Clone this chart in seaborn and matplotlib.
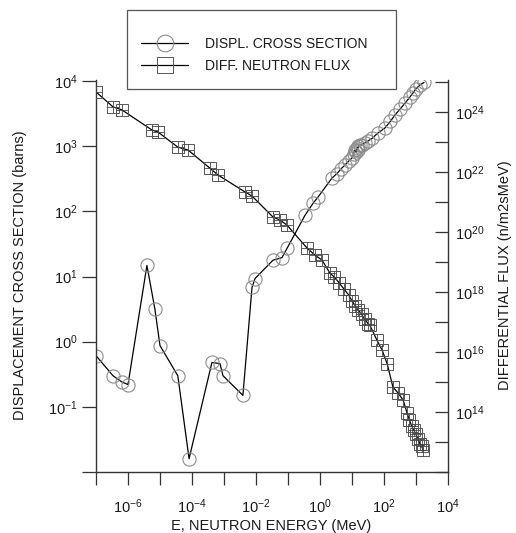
import matplotlib
matplotlib.use("Agg")
import matplotlib.pyplot as plt
import seaborn as sns
import pandas as pd
from matplotlib.lines import Line2D
from matplotlib.patches import Rectangle
from matplotlib.ticker import FixedLocator, FixedFormatter, NullLocator

# ---------------- data ----------------
E_xs = [1.0e-7, 3.4e-7, 6.5e-7, 1.0e-6, 3.9e-6, 6.9e-6, 1.0e-5, 3.6e-5, 8.1e-5, 4.2e-4,
        7.5e-4, 9.3e-4, 3.9e-3, 7.5e-3, 9.3e-3, 0.034, 0.065, 0.093, 0.34, 0.60,
        0.87, 2.37, 3.4, 4.5, 6.0, 7.9, 10.0, 11.2, 12.3, 13.5,
        14.1, 15.0, 15.8, 17.8, 20.4, 25.1, 31.6, 42.7, 63.1, 107,
        158, 219, 316, 457, 631, 813, 1000, 1330, 1780]
sigma_d = [0.61, 0.30, 0.24, 0.22, 14.8, 3.2, 0.87, 0.30, 0.016, 0.48,
           0.46, 0.30, 0.15, 6.8, 9.3, 17.8, 19.5, 27, 87, 132,
           166, 324, 380, 447, 513, 590, 660, 760, 870, 800,
           950, 880, 1000, 1050, 1050, 1120, 1200, 1320, 1580, 1900,
           2400, 3000, 3700, 4600, 5600, 6600, 7600, 8700, 9500]

E_flux = [1.0e-7, 3.4e-7, 6.5e-7, 5.6e-6, 8.7e-6, 3.6e-5, 7.6e-5, 3.6e-4, 6.5e-4, 4.6e-3,
          7.5e-3, 0.034, 0.056, 0.093, 0.39, 0.69, 1.15, 2.04, 2.82, 3.98,
          5.6, 7.9, 10.0, 12.6, 15.8, 20.0, 25.0, 31.6, 36.0, 60.0,
          87.0, 126, 190, 275, 398, 525, 617, 724, 851, 1000,
          1148, 1318, 1514, 1660]
flux = [4.68e24, 1.48e24, 1.17e24, 2.51e23, 2.14e23, 6.76e22, 5.37e22, 1.35e22, 7.94e21, 2.14e21,
        1.58e21, 3.16e20, 2.51e20, 1.70e20, 2.95e19, 1.70e19, 1.17e19, 4.27e18, 3.16e18, 2.0e18,
        1.26e18, 7.9e17, 5.0e17, 3.5e17, 2.5e17, 1.8e17, 1.26e17, 8.9e16, 7.9e16, 2.5e16,
        1.17e16, 4.0e15, 6.8e14, 4.3e14, 2.5e14, 9.3e13, 5.6e13, 3.5e13, 2.5e13, 1.8e13,
        1.26e13, 8.9e12, 7.1e12, 5.4e12]

series_labels = ["DISPL. CROSS SECTION", "DIFF. NEUTRON FLUX"]
x_label = "E, NEUTRON ENERGY (MeV)"
y_label_left = "DISPLACEMENT CROSS SECTION (barns)"
y_label_right = "DIFFERENTIAL FLUX (n/m2sMeV)"

x_tick_exp = list(range(-7, 5))
x_tick_shown = [-6, -4, -2, 0, 2, 4]
yl_tick_exp = list(range(-2, 5))
yl_tick_shown = [-1, 0, 1, 2, 3, 4]
yr_tick_exp = list(range(12, 26))
yr_tick_shown = [14, 16, 18, 20, 22, 24]

# ---------------- style ----------------
sns.set_style("white")
plt.rcParams['font.family'] = ['Liberation Sans', 'DejaVu Sans']
plt.rcParams['mathtext.fontset'] = 'custom'
plt.rcParams['mathtext.rm'] = 'Liberation Sans'
plt.rcParams['mathtext.it'] = 'Liberation Sans'
plt.rcParams['mathtext.default'] = 'regular'

TXT = '#1a1a1a'
W, H = 516, 533

fig = plt.figure(figsize=(W / 100, H / 100), dpi=100)
fig.patch.set_facecolor('white')
ax = fig.add_axes([96 / W, (H - 472) / H, (448 - 96) / W, (472 - 80) / H])
ax2 = ax.twinx()

df_xs = pd.DataFrame({'E': E_xs, 'sigma': sigma_d})
df_fl = pd.DataFrame({'E': E_flux, 'flux': flux})

sns.lineplot(data=df_xs, x='E', y='sigma', ax=ax, sort=False, estimator=None,
             color='black', lw=0.9, marker='o', ms=9.5, mfc='none',
             mec='#8c8c8c', mew=0.8)
sns.lineplot(data=df_fl, x='E', y='flux', ax=ax2, sort=False, estimator=None,
             color='black', lw=0.9, marker='s', ms=9, mfc='none',
             mec='#555555', mew=0.7)
sns.scatterplot(data=df_fl, x='E', y='flux', ax=ax2, marker='+', s=80,
                color='#444444', edgecolor='#444444', linewidth=0.6, zorder=3)

for a in (ax, ax2):
    a.set_xscale('log')
    a.set_yscale('log')
    a.set_xlabel('')
    a.set_ylabel('')
    a.spines['top'].set_visible(False)
    for s in a.spines.values():
        s.set_color('#333333')
        s.set_linewidth(1.0)

ax.set_xlim(1e-7, 1e4)
ax.set_ylim(1e-2, 10 ** (4 + 1 / 65))
ax2.set_ylim(1e12, 10 ** (12 + 392 / 30))
ax2.spines['left'].set_visible(False)
ax2.spines['bottom'].set_visible(False)
ax.spines['right'].set_visible(False)


def lab(e):
    return r'$10^{%d}$' % e


ax.xaxis.set_major_locator(FixedLocator([10.0 ** e for e in x_tick_exp]))
ax.xaxis.set_major_formatter(FixedFormatter([lab(e) if e in x_tick_shown else '' for e in x_tick_exp]))
ax.xaxis.set_minor_locator(NullLocator())
ax.yaxis.set_major_locator(FixedLocator([10.0 ** e for e in yl_tick_exp]))
ax.yaxis.set_major_formatter(FixedFormatter([lab(e) if e in yl_tick_shown else '' for e in yl_tick_exp]))
ax.yaxis.set_minor_locator(NullLocator())
ax2.yaxis.set_major_locator(FixedLocator([10.0 ** e for e in yr_tick_exp]))
ax2.yaxis.set_major_formatter(FixedFormatter([lab(e) if e in yr_tick_shown else '' for e in yr_tick_exp]))
ax2.yaxis.set_minor_locator(NullLocator())

ax.tick_params(axis='x', which='major', direction='out', length=9, width=0.9,
               pad=9, labelsize=10.5, colors='#333333', labelcolor=TXT, bottom=True)
ax.tick_params(axis='y', which='major', direction='out', length=10, width=0.9,
               pad=3, labelsize=10.5, colors='#333333', labelcolor=TXT, left=True)
ax2.tick_params(axis='y', which='major', direction='in', length=9.5, width=0.9,
                pad=5, labelsize=10.5, colors='#333333', labelcolor=TXT, right=True)

# axis titles
fig.text(20 / W, 1 - 275 / H, y_label_left, rotation=90, ha='center', va='center',
         fontsize=10.5, color=TXT)
fig.text(505 / W, 1 - 275 / H, y_label_right, rotation=90, ha='center', va='center',
         fontsize=10.5, color=TXT)
fig.text(271 / W, 1 - 526 / H, x_label, ha='center', va='center',
         fontsize=10.5, color=TXT)

# legend
fig.add_artist(Rectangle((127 / W, 1 - 89 / H), 269 / W, 79 / H, transform=fig.transFigure,
                         facecolor='white', edgecolor='#555555', lw=0.9, zorder=4))
handles = [
    Line2D([], [], color='black', lw=0.9, marker='o', ms=12, mfc='none', mec='#8c8c8c', mew=0.8),
    Line2D([], [], color='black', lw=0.9, marker='s', ms=12, mfc='none', mec='#555555', mew=0.7),
]
leg = fig.legend(handles, series_labels, loc='upper left', bbox_to_anchor=(141 / W, 1 - 37 / H),
                 frameon=False, fontsize=10, handlelength=3.4, handletextpad=1.2,
                 labelspacing=0.55, borderpad=0, borderaxespad=0)
leg.set_zorder(5)
for t in leg.get_texts():
    t.set_color(TXT)

fig.savefig('out.png', dpi=100)
